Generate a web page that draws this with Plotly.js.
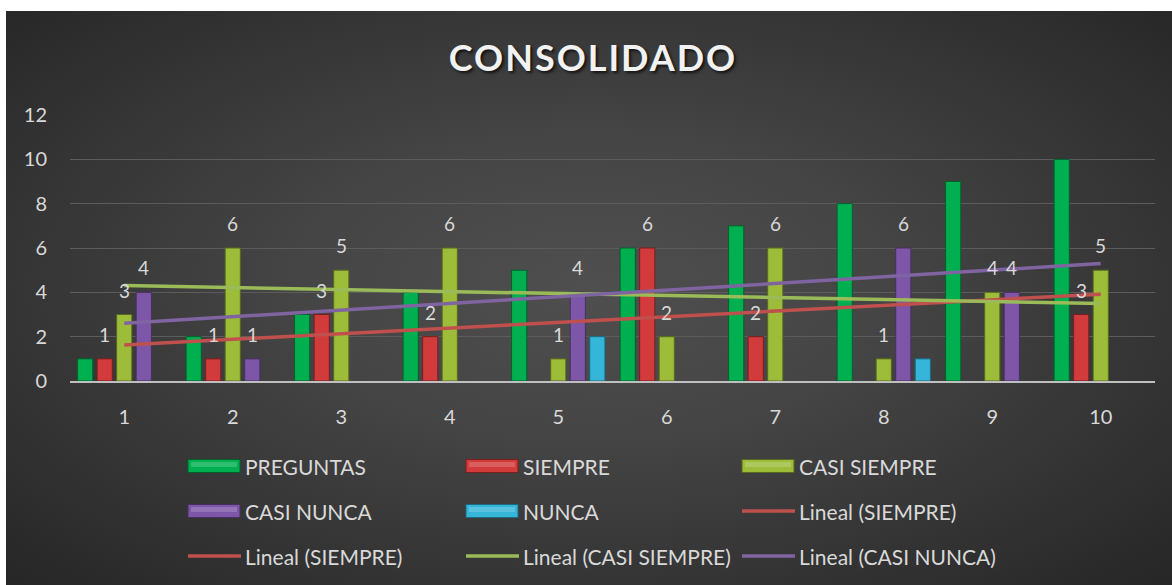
<!DOCTYPE html>
<html><head><meta charset="utf-8">
<script src="https://cdn.plot.ly/plotly-3.0.1.min.js"></script>
<style>
html,body{margin:0;padding:0;background:#fff;overflow:hidden;}
#bg{position:absolute;left:6px;top:11px;width:1166px;height:574px;
background:radial-gradient(ellipse farthest-corner at 50% 48%, #4f4f4f 0%, #454545 35%, #262626 100%);}
#chart{position:absolute;left:0;top:0;width:1172px;height:585px;}
.gtitle{letter-spacing:2px;}
</style></head><body>
<div id="bg"></div><div id="chart"></div>
<script>
// ---- data ----
const categories = [1,2,3,4,5,6,7,8,9,10];
const tickLabels = ['1','2','3','4','5','6','7','8','9','10'];
const preguntas   = [1,2,3,4,5,6,7,8,9,10];
const siempre     = [1,1,3,2,null,6,2,null,null,3];
const casiSiempre = [3,6,5,6,1,2,6,1,4,5];
const casiNunca   = [4,1,null,null,4,null,null,6,4,null];
const nunca       = [null,null,null,null,2,null,null,1,null,null];
const seriesNames = ['PREGUNTAS','SIEMPRE','CASI SIEMPRE','CASI NUNCA','NUNCA'];
const legendLabels = ['PREGUNTAS','SIEMPRE','CASI SIEMPRE','CASI NUNCA','NUNCA',
  'Lineal (SIEMPRE)','Lineal (SIEMPRE)','Lineal (CASI SIEMPRE)','Lineal (CASI NUNCA)'];

// ---- styles ----
const barColors  = ['#00b050','#d13b3b','#9cbc3a','#7d56a8','#35b5d8'];
const barLines   = ['#00602c','#7a1e1e','#56691c','#46305f','#1a6a80'];
const trendColors = {SIEMPRE:'#c0504d','CASI SIEMPRE':'#9bbb59','CASI NUNCA':'#8064a2'};
const slotOffsets = [-0.36,-0.18,0,0.18,0.36];
const barWidth = 0.14;
const labelled = [false,true,true,true,false];
const textColor = '#d9d9d9';
const FONT = 'Lato, "Open Sans", sans-serif';

const seriesValues = [preguntas, siempre, casiSiempre, casiNunca, nunca];

const traces = [];
seriesValues.forEach((vals,i)=>{
  traces.push({
    type:'bar', name:seriesNames[i], x:categories, y:vals,
    width:barWidth, offset:slotOffsets[i]-barWidth/2,
    marker:{color:barColors[i], line:{color:barLines[i], width:1}},
    showlegend:false, hoverinfo:'x+y+name'
  });
});

// linear trendlines (least squares over non-empty points, as Excel does)
function trend(vals){
  const pts = categories.map((c,i)=>[c,vals[i]]).filter(p=>p[1]!==null);
  const n=pts.length;
  const mx=pts.reduce((s,p)=>s+p[0],0)/n, my=pts.reduce((s,p)=>s+p[1],0)/n;
  let sxy=0,sxx=0; pts.forEach(p=>{sxy+=(p[0]-mx)*(p[1]-my); sxx+=(p[0]-mx)*(p[0]-mx);});
  const b=sxy/sxx, a=my-b*mx;
  const x0=categories[0], x1=categories[categories.length-1];
  return {x:[x0,x1], y:[a+b*x0, a+b*x1]};
}
[['SIEMPRE',siempre],['CASI SIEMPRE',casiSiempre],['CASI NUNCA',casiNunca]].forEach(([nm,vals])=>{
  const t=trend(vals);
  traces.push({type:'scatter',mode:'lines',name:'Lineal ('+nm+')',x:t.x,y:t.y,
    line:{color:trendColors[nm],width:3.5},showlegend:false,hoverinfo:'skip'});
});

// data labels
const annotations = [];
seriesValues.forEach((vals,i)=>{
  if(!labelled[i]) return;
  vals.forEach((v,j)=>{
    if(v===null) return;
    annotations.push({x:categories[j]+slotOffsets[i], y:v, xref:'x', yref:'y',
      text:String(v), showarrow:false, yshift:24.5, yanchor:'middle',
      font:{family:FONT,size:19,color:textColor}});
  });
});

// manual legend (Excel style)
const L=70, R=17, T=115, B=204, W=1172, H=585;
const pw=W-L-R, ph=H-T-B;
const px=v=>(v-L)/pw, py=v=>(H-B-v)/ph;
const colX=[188,466,742], rowY=[466,511,556];
const legendKinds=['bar','bar','bar','bar','bar','line','line','line','line'];
const legendColors=[barColors[0],barColors[1],barColors[2],barColors[3],barColors[4],
  trendColors.SIEMPRE,trendColors.SIEMPRE,trendColors['CASI SIEMPRE'],trendColors['CASI NUNCA']];
const legendLineColors=[barLines[0],barLines[1],barLines[2],barLines[3],barLines[4]];
const shapes=[];
legendLabels.forEach((lab,k)=>{
  const cx=colX[k%3], cy=rowY[Math.floor(k/3)];
  if(legendKinds[k]==='bar'){
    shapes.push({type:'rect',xref:'paper',yref:'paper',x0:px(cx),x1:px(cx+52),y0:py(cy+6.5),y1:py(cy-6.5),
      fillcolor:legendColors[k],line:{color:legendLineColors[k],width:1}});
    shapes.push({type:'rect',xref:'paper',yref:'paper',x0:px(cx+3),x1:px(cx+49),y0:py(cy+1),y1:py(cy-4),
      fillcolor:'rgba(255,255,255,0.18)',line:{width:0}});
  } else {
    shapes.push({type:'line',xref:'paper',yref:'paper',x0:px(cx),x1:px(cx+53),y0:py(cy),y1:py(cy),
      line:{color:legendColors[k],width:3.5}});
  }
  annotations.push({xref:'paper',yref:'paper',x:px(cx+55),y:py(cy),xanchor:'left',yanchor:'middle',
    text:lab,showarrow:false,font:{family:FONT,size:21,color:textColor}});
});

const layout={
  width:W,height:H,margin:{l:L,r:R,t:T,b:B},
  paper_bgcolor:'rgba(0,0,0,0)',plot_bgcolor:'rgba(0,0,0,0)',
  title:{text:'<b>CONSOLIDADO</b>',x:593/W,xanchor:'center',y:1-58/H,yanchor:'middle',
    font:{family:FONT,size:36,color:'#f2f2f2',shadow:'2px 2px 3px rgba(0,0,0,0.7)'}},
  barmode:'group',
  xaxis:{range:[0.5,10.5],tickvals:categories,ticktext:tickLabels,showgrid:false,zeroline:false,
    showline:true,linecolor:'#bfbfbf',linewidth:2,ticks:'',ticklabelstandoff:17,
    tickfont:{family:FONT,size:20,color:textColor}},
  yaxis:{range:[0,12],dtick:2,showgrid:true,gridcolor:'#5c5c5c',gridwidth:1,zeroline:false,
    showline:false,ticks:'',ticklabelstandoff:22,tickfont:{family:FONT,size:20,color:textColor}},
  showlegend:false,annotations:annotations,shapes:shapes
};
Plotly.newPlot('chart',traces,layout,{displayModeBar:false,staticPlot:true});
</script></body></html>
